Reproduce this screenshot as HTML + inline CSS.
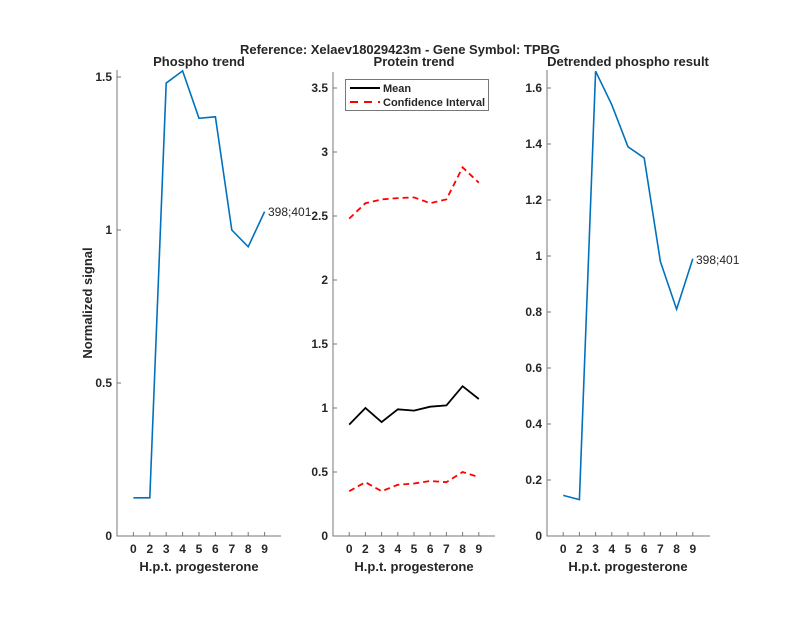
<!DOCTYPE html>
<html><head><meta charset="utf-8"><style>html,body{margin:0;padding:0;background:#fff}svg{display:block}text{font-family:"Liberation Sans",Arial,sans-serif;fill:#262626}</style></head>
<body>
<svg width="800" height="618" viewBox="0 0 800 618" xmlns="http://www.w3.org/2000/svg">
<rect width="800" height="618" fill="#fff"/>
<text x="400" y="54" font-size="13" font-weight="bold" text-anchor="middle" fill="#000">Reference:  Xelaev18029423m - Gene Symbol:  TPBG</text>

<!-- Left -->
<g stroke="#777" stroke-width="1" fill="none">
<path d="M117,70 V536 H281"/>
<path d="M133.4,536v-4M149.8,536v-4M166.2,536v-4M182.6,536v-4M199,536v-4M215.4,536v-4M231.8,536v-4M248.2,536v-4M264.6,536v-4"/>
<path d="M117,536h4M117,383h4M117,230h4M117,77h4"/>
</g>
<g font-size="12" font-weight="bold" text-anchor="end">
<text x="112" y="540">0</text><text x="112" y="387">0.5</text><text x="112" y="234">1</text><text x="112" y="81">1.5</text>
</g>
<g font-size="12" font-weight="bold" text-anchor="middle">
<text x="133.4" y="553">0</text><text x="149.8" y="553">2</text><text x="166.2" y="553">3</text><text x="182.6" y="553">4</text><text x="199" y="553">5</text><text x="215.4" y="553">6</text><text x="231.8" y="553">7</text><text x="248.2" y="553">8</text><text x="264.6" y="553">9</text>
</g>
<text x="199" y="571" font-size="13" font-weight="bold" text-anchor="middle">H.p.t. progesterone</text>
<text x="199" y="66" font-size="13" font-weight="bold" text-anchor="middle" fill="#000">Phospho trend</text>
<text transform="translate(92,303) rotate(-90)" font-size="13" font-weight="bold" text-anchor="middle">Normalized signal</text>
<polyline fill="none" stroke="#0072BD" stroke-width="1.6" points="133.4,497.8 149.8,497.8 166.2,83.1 182.6,70.9 199,118.3 215.4,116.8 231.8,230 248.2,246.8 264.6,211.6"/>
<text x="268" y="216" font-size="12" fill="#000">398;401</text>

<!-- Middle -->
<g stroke="#777" stroke-width="1" fill="none">
<path d="M333,72 V536 H495"/>
<path d="M349.2,536v-4M365.4,536v-4M381.6,536v-4M397.8,536v-4M414,536v-4M430.2,536v-4M446.4,536v-4M462.6,536v-4M478.8,536v-4"/>
<path d="M333,536h4M333,472h4M333,408h4M333,344h4M333,280h4M333,216h4M333,152h4M333,88h4"/>
</g>
<g font-size="12" font-weight="bold" text-anchor="end">
<text x="328" y="540">0</text><text x="328" y="476">0.5</text><text x="328" y="412">1</text><text x="328" y="348">1.5</text><text x="328" y="284">2</text><text x="328" y="220">2.5</text><text x="328" y="156">3</text><text x="328" y="92">3.5</text>
</g>
<g font-size="12" font-weight="bold" text-anchor="middle">
<text x="349.2" y="553">0</text><text x="365.4" y="553">2</text><text x="381.6" y="553">3</text><text x="397.8" y="553">4</text><text x="414" y="553">5</text><text x="430.2" y="553">6</text><text x="446.4" y="553">7</text><text x="462.6" y="553">8</text><text x="478.8" y="553">9</text>
</g>
<text x="414" y="571" font-size="13" font-weight="bold" text-anchor="middle">H.p.t. progesterone</text>
<text x="414" y="66" font-size="13" font-weight="bold" text-anchor="middle" fill="#000">Protein trend</text>
<polyline fill="none" stroke="#000" stroke-width="1.8" points="349.2,424.6 365.4,408 381.6,422.1 397.8,409.3 414,410.6 430.2,406.7 446.4,405.4 462.6,386.2 478.8,399"/>
<polyline fill="none" stroke="#f00" stroke-width="1.8" stroke-dasharray="6,4" points="349.2,218.6 365.4,203.2 381.6,199.4 397.8,198.1 414,197.4 430.2,203.2 446.4,199.4 462.6,167.4 478.8,182.7"/>
<polyline fill="none" stroke="#f00" stroke-width="1.8" stroke-dasharray="6,4" points="349.2,491.2 365.4,482.2 381.6,491.2 397.8,484.8 414,483.5 430.2,481 446.4,482.2 462.6,472 478.8,477.1"/>
<rect x="345.5" y="79.5" width="143" height="31" fill="#fff" stroke="#777" stroke-width="1"/>
<line x1="350" y1="88" x2="380" y2="88" stroke="#000" stroke-width="2"/>
<line x1="350" y1="102" x2="380" y2="102" stroke="#f00" stroke-width="2" stroke-dasharray="8,6"/>
<text x="383" y="92" font-size="11" font-weight="bold" fill="#000">Mean</text>
<text x="383" y="106" font-size="11" font-weight="bold" fill="#000">Confidence Interval</text>

<!-- Right -->
<g stroke="#777" stroke-width="1" fill="none">
<path d="M547,70 V536 H710"/>
<path d="M563.2,536v-4M579.4,536v-4M595.6,536v-4M611.8,536v-4M628,536v-4M644.2,536v-4M660.4,536v-4M676.6,536v-4M692.8,536v-4"/>
<path d="M547,536h4M547,480h4M547,424h4M547,368h4M547,312h4M547,256h4M547,200h4M547,144h4M547,88h4"/>
</g>
<g font-size="12" font-weight="bold" text-anchor="end">
<text x="542" y="540">0</text><text x="542" y="484">0.2</text><text x="542" y="428">0.4</text><text x="542" y="372">0.6</text><text x="542" y="316">0.8</text><text x="542" y="260">1</text><text x="542" y="204">1.2</text><text x="542" y="148">1.4</text><text x="542" y="92">1.6</text>
</g>
<g font-size="12" font-weight="bold" text-anchor="middle">
<text x="563.2" y="553">0</text><text x="579.4" y="553">2</text><text x="595.6" y="553">3</text><text x="611.8" y="553">4</text><text x="628" y="553">5</text><text x="644.2" y="553">6</text><text x="660.4" y="553">7</text><text x="676.6" y="553">8</text><text x="692.8" y="553">9</text>
</g>
<text x="628" y="571" font-size="13" font-weight="bold" text-anchor="middle">H.p.t. progesterone</text>
<text x="628" y="66" font-size="13" font-weight="bold" text-anchor="middle" fill="#000">Detrended phospho result</text>
<polyline fill="none" stroke="#0072BD" stroke-width="1.6" points="563.2,495.4 579.4,499.6 595.6,71.2 611.8,104.8 628,146.8 644.2,158 660.4,261.6 676.6,309.2 692.8,258.8"/>
<text x="696" y="264" font-size="12" fill="#000">398;401</text>
</svg>
</body></html>
